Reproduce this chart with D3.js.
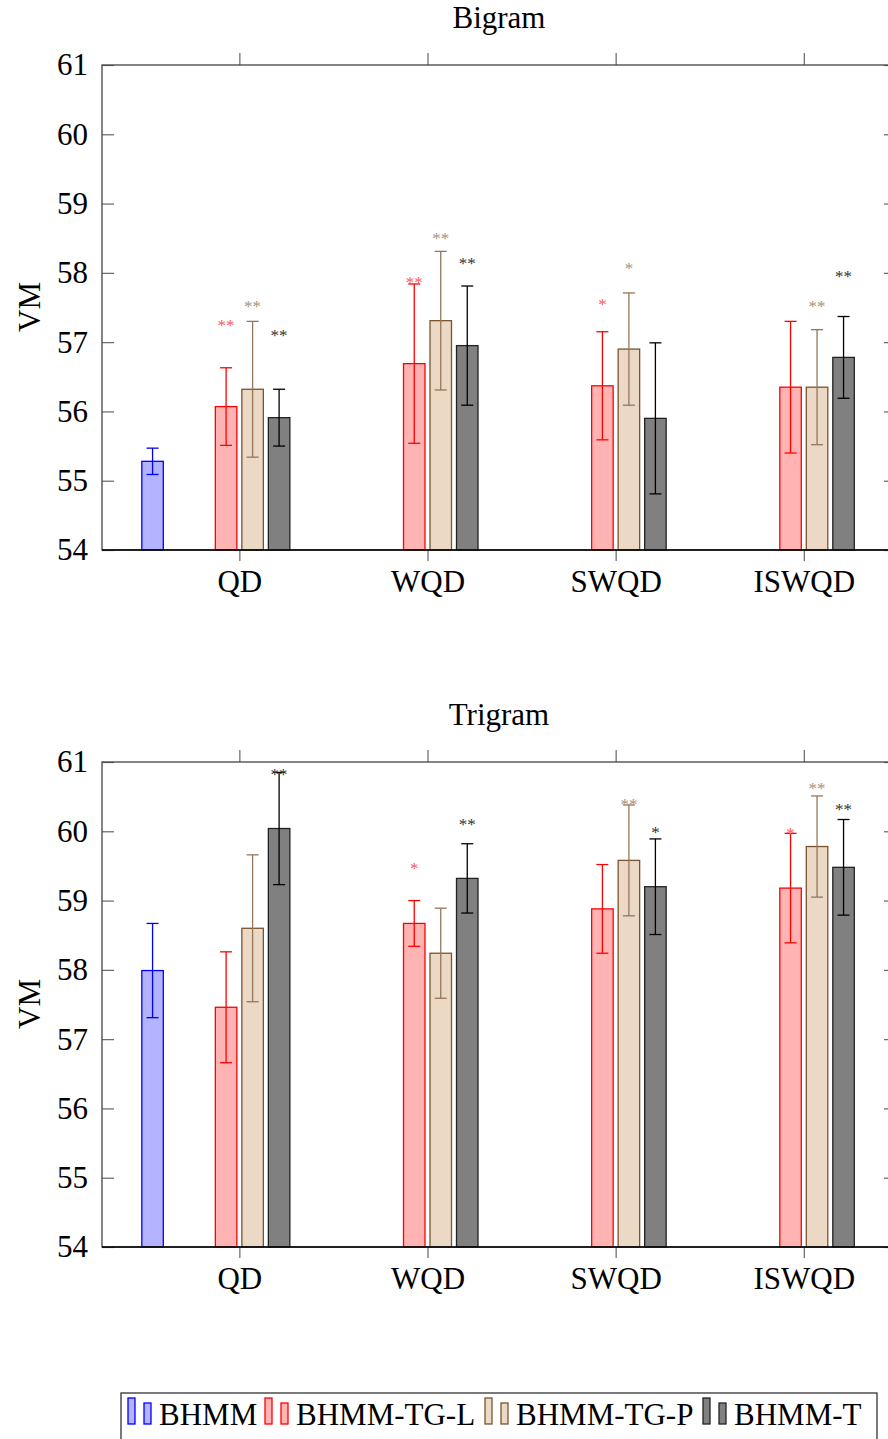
<!DOCTYPE html>
<html>
<head>
<meta charset="utf-8">
<script src="https://cdn.jsdelivr.net/npm/d3@7/dist/d3.min.js"></script>
<style>
	body { margin: 0; background: #fff; }
	svg text { font-family: "Liberation Serif", "Times New Roman", serif; }
</style>
</head>
<body>
<div id="chart"></div>
<script>
// categories and series
var categories = ["QD", "WQD", "SWQD", "ISWQD"];
var seriesNames = ["BHMM", "BHMM-TG-L", "BHMM-TG-P", "BHMM-T"];
var yTicks = [54, 55, 56, 57, 58, 59, 60, 61];

// Bigram values
var bigramBHMM = [55.28], bigramBHMMErr = [0.19];
var bigramTGL = [56.07, 56.69, 56.37, 56.35], bigramTGLErr = [0.56, 1.15, 0.78, 0.95];
var bigramTGP = [56.32, 57.31, 56.90, 56.35], bigramTGPErr = [0.98, 1.00, 0.81, 0.83];
var bigramT = [55.91, 56.95, 55.90, 56.78], bigramTErr = [0.41, 0.86, 1.09, 0.59];
var bigramTGLStars = ["**", "**", "*", ""], bigramTGLStarY = [57.29, 57.91, 57.60, null];
var bigramTGPStars = ["**", "**", "*", "**"], bigramTGPStarY = [57.57, 58.54, 58.12, 57.57];
var bigramTStars = ["**", "**", "", "**"], bigramTStarY = [57.15, 58.18, null, 58.00];

// Trigram values
var trigramBHMM = [57.99], trigramBHMMErr = [0.68];
var trigramTGL = [57.46, 58.67, 58.88, 59.18], trigramTGLErr = [0.80, 0.33, 0.64, 0.79];
var trigramTGP = [58.60, 58.24, 59.58, 59.78], trigramTGPErr = [1.06, 0.65, 0.80, 0.73];
var trigramT = [60.04, 59.32, 59.20, 59.48], trigramTErr = [0.81, 0.50, 0.69, 0.69];
var trigramTGLStars = ["", "*", "", "*"], trigramTGLStarY = [null, 59.51, null, 60.02];
var trigramTGPStars = ["", "", "**", "**"], trigramTGPStarY = [null, null, 60.44, 60.67];
var trigramTStars = ["**", "**", "*", "**"], trigramTStarY = [60.87, 60.15, 60.04, 60.37];

var styles = [
	{fill: "#b3b3ff", stroke: "#0000ff", err: "#0000ff", star: "#0000ff"}
, {fill: "#ffb3b3", stroke: "#ff0000", err: "#ff0000", star: "#ff5a5a"}
, {fill: "#ebd9c6", stroke: "#7a5330", err: "#96765a", star: "#a8927c"}
, {fill: "#808080", stroke: "#222222", err: "#000000", star: "#333333"}
];

var W = 888, H = 1439;
var svg = d3.select("#chart").append("svg")
	.attr("width", W).attr("height", H)
	.attr("viewBox", "0 0 " + W + " " + H);

var x = d3.scaleLinear().domain([0.27, 4.49]).range([102, 896]);
var barW = 21.5, barStep = 26.5;
var bhmmPos = 0.75;

function drawPanel(top, title, groups) {
	var y = d3.scaleLinear().domain([54, 61]).range([top + 485, top]);
	var g = svg.append("g");

	g.append("text").attr("x", 499).attr("y", top - 37)
		.attr("text-anchor", "middle").attr("font-size", 31).text(title);

	g.append("text")
		.attr("transform", "translate(40," + (top + 242) + ") rotate(-90)")
		.attr("text-anchor", "middle").attr("font-size", 31).text("VM");

	// axes
	var left = g.append("g").attr("transform", "translate(102,0)")
		.call(d3.axisLeft(y).tickValues(yTicks).tickSize(-12).tickPadding(14).tickFormat(d3.format("d")));
	var right = g.append("g").attr("transform", "translate(896,0)")
		.call(d3.axisRight(y).tickValues(yTicks).tickSize(-12).tickFormat(""));
	var bottom = g.append("g").attr("transform", "translate(0," + (top + 485) + ")")
		.call(d3.axisBottom(x).tickValues([1, 2, 3, 4]).tickSize(11).tickPadding(9)
			.tickFormat(function(d) { return categories[d - 1]; }));
	var topAx = g.append("g").attr("transform", "translate(0," + top + ")")
		.call(d3.axisTop(x).tickValues([1, 2, 3, 4]).tickSize(12).tickFormat(""));
	[left, right, bottom, topAx].forEach(function(a) {
		a.select(".domain").remove();
		a.selectAll(".tick line").attr("stroke", "#666").attr("stroke-width", 1.2);
		a.selectAll("text").attr("font-family", "Liberation Serif").attr("fill", "#000");
	});
	left.selectAll("text").attr("font-size", 31);
	bottom.selectAll("text").attr("font-size", 31);

	// bars
	groups.forEach(function(s, si) {
		var st = styles[si];
		s.values.forEach(function(v, i) {
			var cx = x(s.pos[i]) + (si - 1.5) * barStep;
			g.append("rect")
				.attr("x", cx - barW / 2).attr("y", y(v))
				.attr("width", barW).attr("height", y(54) - y(v))
				.attr("fill", st.fill).attr("stroke", st.stroke).attr("stroke-width", 1.3);
			var e = s.errs[i];
			var eg = g.append("g").attr("stroke", st.err).attr("stroke-width", 1.3);
			eg.append("line").attr("x1", cx).attr("x2", cx).attr("y1", y(v + e)).attr("y2", y(v - e));
			eg.append("line").attr("x1", cx - 6).attr("x2", cx + 6).attr("y1", y(v + e)).attr("y2", y(v + e));
			eg.append("line").attr("x1", cx - 6).attr("x2", cx + 6).attr("y1", y(v - e)).attr("y2", y(v - e));
			if (s.stars && s.stars[i]) {
				g.append("text").attr("x", cx).attr("y", y(s.starY[i]) + 9)
					.attr("text-anchor", "middle").attr("font-size", 17)
					.attr("fill", st.star).text(s.stars[i]);
			}
		});
	});

	// frame
	g.append("rect").attr("x", 102).attr("y", top).attr("width", 794).attr("height", 485)
		.attr("fill", "none").attr("stroke", "#444").attr("stroke-width", 1.3);
	g.append("line").attr("x1", 102).attr("x2", 896).attr("y1", top + 485).attr("y2", top + 485)
		.attr("stroke", "#000").attr("stroke-width", 1.5);
}

var pos4 = [1, 2, 3, 4];
drawPanel(65, "Bigram", [
	{values: bigramBHMM, errs: bigramBHMMErr, pos: [bhmmPos]}
, {values: bigramTGL, errs: bigramTGLErr, pos: pos4, stars: bigramTGLStars, starY: bigramTGLStarY}
, {values: bigramTGP, errs: bigramTGPErr, pos: pos4, stars: bigramTGPStars, starY: bigramTGPStarY}
, {values: bigramT, errs: bigramTErr, pos: pos4, stars: bigramTStars, starY: bigramTStarY}
]);
drawPanel(762, "Trigram", [
	{values: trigramBHMM, errs: trigramBHMMErr, pos: [bhmmPos]}
, {values: trigramTGL, errs: trigramTGLErr, pos: pos4, stars: trigramTGLStars, starY: trigramTGLStarY}
, {values: trigramTGP, errs: trigramTGPErr, pos: pos4, stars: trigramTGPStars, starY: trigramTGPStarY}
, {values: trigramT, errs: trigramTErr, pos: pos4, stars: trigramTStars, starY: trigramTStarY}
]);

// legend
var legend = svg.append("g");
legend.append("rect").attr("x", 121).attr("y", 1393).attr("width", 756).attr("height", 60)
	.attr("fill", "#fff").attr("stroke", "#333").attr("stroke-width", 1.3);
var legendX = [128, 265, 485, 703];
seriesNames.forEach(function(name, i) {
	var st = styles[i];
	var lx = legendX[i];
	legend.append("rect").attr("x", lx).attr("y", 1398).attr("width", 7).attr("height", 26)
		.attr("fill", st.fill).attr("stroke", st.stroke).attr("stroke-width", 1.3);
	legend.append("rect").attr("x", lx + 16).attr("y", 1403).attr("width", 7).attr("height", 21)
		.attr("fill", st.fill).attr("stroke", st.stroke).attr("stroke-width", 1.3);
	legend.append("text").attr("x", lx + 31).attr("y", 1425)
		.attr("font-size", 31).text(name);
});
</script>
</body>
</html>
